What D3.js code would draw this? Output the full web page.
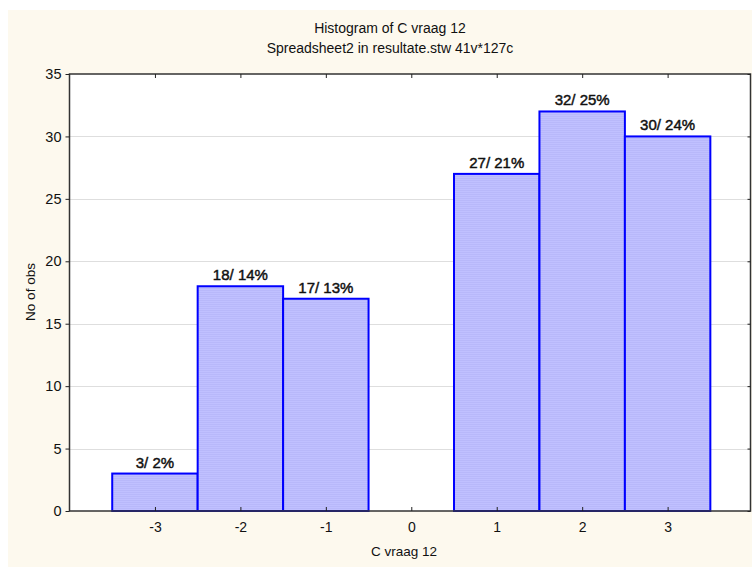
<!DOCTYPE html>
<html><head><meta charset="utf-8">
<script src="https://cdn.jsdelivr.net/npm/d3@7/dist/d3.min.js"></script>
<style>body{margin:0;background:#fff;}svg{display:block;font-family:"Liberation Sans",Arial,sans-serif;}</style>
</head><body>
<script>
const categories = [-3, -2, -1, 0, 1, 2, 3];
const counts = [3, 18, 17, 0, 27, 32, 30];
const labels = ["3/ 2%", "18/ 14%", "17/ 13%", "", "27/ 21%", "32/ 25%", "30/ 24%"];
const yTicks = [0, 5, 10, 15, 20, 25, 30, 35];
const title = "Histogram of C vraag 12";
const subtitle = "Spreadsheet2 in resultate.stw 41v*127c";
const xLabel = "C vraag 12";
const yLabel = "No of obs";

const W = 752, H = 569;
const FONT = "Liberation Sans, Arial, sans-serif";
const svg = d3.select("body").append("svg").attr("width", W).attr("height", H);
svg.append("rect").attr("x", 8).attr("y", 10).attr("width", W - 8).attr("height", 557).attr("fill", "#fdf9ee");

const L = 69.5, R = 750.5, T = 74, B = 511;
const x = d3.scaleLinear().domain([-4, 3.97]).range([L, R]);
const y = d3.scaleLinear().domain([0, 35]).range([B, T]);

svg.append("rect").attr("x", L).attr("y", T).attr("width", R - L).attr("height", B - T).attr("fill", "#fff");

// gridlines
svg.append("g").selectAll("line").data(yTicks.filter(d => d > 0 && d < 35)).join("line")
  .attr("x1", L).attr("x2", R).attr("y1", d => Math.round(y(d)) + 0.5).attr("y2", d => Math.round(y(d)) + 0.5)
  .attr("stroke", "#bdbdbd").attr("stroke-width", 1).attr("stroke-dasharray", "1,1");

// pattern for bars
const defs = svg.append("defs");
const pat = defs.append("pattern").attr("id", "stripe").attr("patternUnits", "userSpaceOnUse").attr("width", 4).attr("height", 2);
pat.append("rect").attr("width", 4).attr("height", 2).attr("fill", "#c0c0ff");
pat.append("rect").attr("width", 4).attr("height", 1).attr("fill", "#b8b8fa");

// bars
svg.append("g").selectAll("rect").data(categories.map((c, i) => ({c, v: counts[i]})).filter(d => d.v > 0)).join("rect")
  .attr("x", d => x(d.c - 0.5)).attr("width", d => x(d.c + 0.5) - x(d.c - 0.5))
  .attr("y", d => y(d.v)).attr("height", d => y(0) - y(d.v))
  .attr("fill", "url(#stripe)").attr("stroke", "#0000ff").attr("stroke-width", 2);

// bar labels
svg.append("g").selectAll("text").data(categories.map((c, i) => ({c, v: counts[i], t: labels[i]})).filter(d => d.t)).join("text")
  .attr("x", d => x(d.c)).attr("y", d => y(d.v) - 6).attr("text-anchor", "middle")
  .attr("font-size", 15).attr("fill", "#111").attr("stroke", "#111").attr("stroke-width", 0.45).text(d => d.t);

// frame
svg.append("rect").attr("x", L).attr("y", T).attr("width", R - L).attr("height", B - T)
  .attr("fill", "none").attr("stroke", "#333").attr("stroke-width", 1.5);

// axes
const gx = svg.append("g").attr("transform", `translate(0,${B})`)
  .call(d3.axisBottom(x).tickValues(categories).tickSize(-4).tickPadding(11).tickFormat(d => String(d)));
gx.select(".domain").remove();
gx.selectAll("text").attr("font-size", 14).attr("fill", "#111").attr("font-family", FONT);
gx.selectAll("line").attr("stroke", "#222");

const gxt = svg.append("g").attr("transform", `translate(0,${T})`)
  .call(d3.axisTop(x).tickValues(categories).tickSize(-4).tickFormat(""));
gxt.select(".domain").remove();
gxt.selectAll("line").attr("stroke", "#222");

const gy = svg.append("g").attr("transform", `translate(${L},0)`)
  .call(d3.axisLeft(y).tickValues(yTicks).tickSize(4).tickPadding(4).tickFormat(d => String(d)));
gy.select(".domain").remove();
gy.selectAll("text").attr("font-size", 14.5).attr("fill", "#111").attr("font-family", FONT);
gy.selectAll("line").attr("stroke", "#222");

const gyr = svg.append("g").attr("transform", `translate(${R},0)`)
  .call(d3.axisRight(y).tickValues(yTicks).tickSize(-3).tickFormat(""));
gyr.select(".domain").remove();
gyr.selectAll("line").attr("stroke", "#222");

// titles
svg.append("text").attr("x", 390).attr("y", 33).attr("text-anchor", "middle").attr("font-size", 14).attr("fill", "#111").text(title);
svg.append("text").attr("x", 390).attr("y", 53).attr("text-anchor", "middle").attr("font-size", 14).attr("fill", "#111").text(subtitle);
svg.append("text").attr("x", 404).attr("y", 556).attr("text-anchor", "middle").attr("font-size", 13.5).attr("fill", "#111").text(xLabel);
svg.append("text").attr("transform", "translate(35,292) rotate(-90)").attr("text-anchor", "middle").attr("font-size", 13.5).attr("fill", "#111").text(yLabel);
</script>
</body></html>
